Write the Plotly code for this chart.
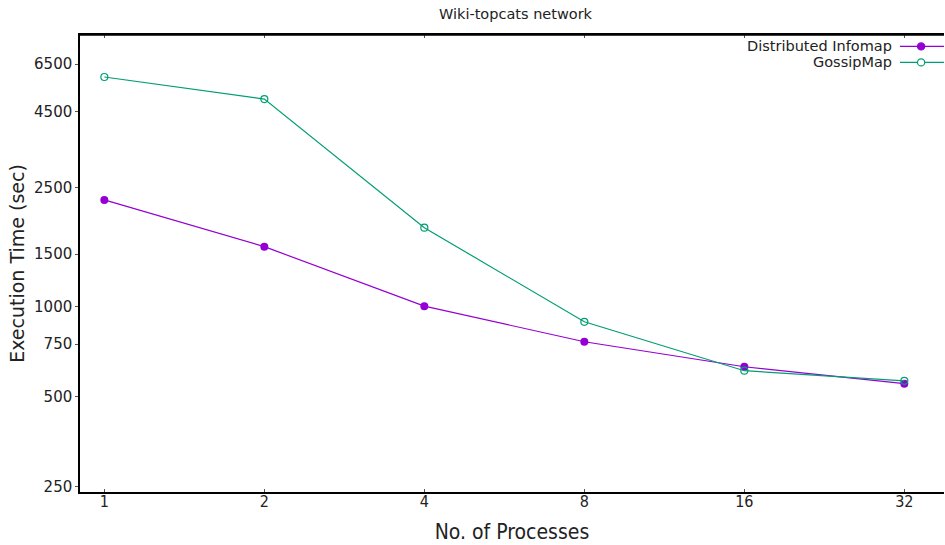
import plotly.graph_objects as go

processes = [1, 2, 4, 8, 16, 32]
infomap_times = [2280, 1590, 1005, 764, 630, 553]
gossip_times = [5880, 4960, 1840, 891, 611, 565]
y_ticks = [250, 500, 750, 1000, 1500, 2500, 4500, 6500]

PURPLE = "#9400D3"
GREEN = "#009E73"
FONT = "DejaVu Sans"
COND = "DejaVu Sans Condensed, Roboto Condensed, DejaVu Sans"

fig = go.Figure()
fig.add_trace(go.Scatter(x=processes, y=infomap_times, mode="lines+markers",
                         name="Distributed Infomap",
                         line=dict(color=PURPLE, width=1.2),
                         marker=dict(symbol="circle", size=8, color=PURPLE),
                         showlegend=False))
fig.add_trace(go.Scatter(x=processes, y=gossip_times, mode="lines+markers",
                         name="GossipMap",
                         line=dict(color=GREEN, width=1.2),
                         marker=dict(symbol="circle-open", size=7, color=GREEN,
                                     line=dict(width=1.2)),
                         showlegend=False))

# gnuplot-style key: text right-aligned, sample to the right
legend_items = [("Distributed Infomap", PURPLE, True, 0.975),
                ("GossipMap", GREEN, False, 0.94)]
for name, col, filled, yp in legend_items:
    fig.add_annotation(xref="paper", yref="paper", x=0.942, y=yp,
                       text=name, showarrow=False, xanchor="right",
                       yanchor="middle",
                       font=dict(family=FONT, size=14.5, color="#222"))
    fig.add_shape(type="line", xref="paper", yref="paper",
                  x0=0.949, x1=1.0, y0=yp, y1=yp,
                  line=dict(color=col, width=1.2))
    fig.add_shape(type="circle", xref="paper", yref="paper",
                  x0=0.9735 - 0.0042, x1=0.9735 + 0.0042,
                  y0=yp - 0.0077, y1=yp + 0.0077,
                  line=dict(color=col, width=1.2),
                  fillcolor=col if filled else "white")

fig.update_layout(
    width=945, height=545,
    margin=dict(l=80, r=1, t=35, b=53),
    plot_bgcolor="white", paper_bgcolor="white",
    font=dict(family=FONT, color="#222"),
    title=dict(text="Wiki-topcats network", x=0.5455, xanchor="center",
               y=0.975, yanchor="middle",
               font=dict(family=FONT, size=14.5, color="#222")),
)
fig.update_xaxes(
    type="log", range=[-0.0458, 1.5798],
    tickvals=processes, ticktext=[str(p) for p in processes],
    ticks="inside", ticklen=3, tickcolor="#555",
    showline=True, linecolor="black", linewidth=1.5, mirror="ticks",
    showgrid=False, zeroline=False, ticklabelstandoff=-6,
    tickfont=dict(family=COND, size=16, color="#222"),
    title=dict(text="No. of Processes", standoff=14,
               font=dict(family=COND, size=21, color="#222")),
)
fig.update_yaxes(
    type="log", range=[2.380, 3.910],
    tickvals=y_ticks, ticktext=[str(v) for v in y_ticks],
    ticks="outside", ticklen=3, tickcolor="#555",
    showline=True, linecolor="black", linewidth=1.5,
    showgrid=False, zeroline=False,
    tickfont=dict(family=FONT, size=15, color="#222"),
    title=dict(text="Execution Time (sec)", standoff=4,
               font=dict(family=FONT, size=19, color="#222")),
)
# top border line (no right border)
fig.add_shape(type="line", xref="paper", yref="paper", x0=0, x1=1, y0=1, y1=1,
              line=dict(color="black", width=1.5))

fig.write_html("out.html")
